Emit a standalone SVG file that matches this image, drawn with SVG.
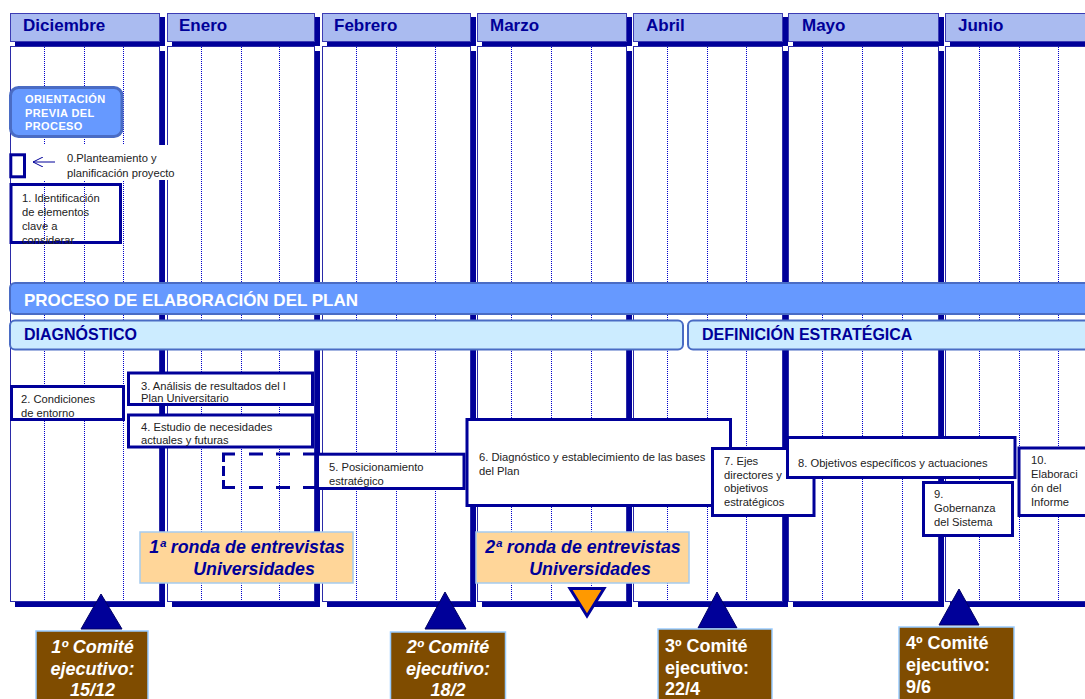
<svg xmlns="http://www.w3.org/2000/svg" width="1085" height="699" viewBox="0 0 1085 699">
<style>
.sh{fill:#000099}
.body{fill:#fff;stroke:#2b2ba8;stroke-width:1}
.hdr{fill:#aabbf0;stroke:#3c3cb4;stroke-width:1}
.dot{stroke:#0000cc;stroke-width:1;stroke-dasharray:1 1;fill:none}
.mt{font-family:"Liberation Sans",Arial,sans-serif;font-weight:bold;font-size:17px;fill:#000099}
.box{fill:#fff;stroke:#000099;stroke-width:3}
.nobox{fill:none;stroke:#000099;stroke-width:3}
.t{font-family:"Liberation Sans",Arial,sans-serif;font-size:11.2px;fill:#222}
.bar1{fill:#6699ff;stroke:#4a6cc4;stroke-width:2}
.bar2{fill:#ccecff;stroke:#4a6cc4;stroke-width:2}
.bt1{font-family:"Liberation Sans",Arial,sans-serif;font-weight:bold;font-size:17px;fill:#fff}
.bt2{font-family:"Liberation Sans",Arial,sans-serif;font-weight:bold;font-size:16px;fill:#000099}
.ronda{fill:#ffd699;stroke:#a6cbee;stroke-width:1.5}
.rt{font-family:"Liberation Sans",Arial,sans-serif;font-weight:bold;font-style:italic;font-size:17.8px;fill:#000099;text-anchor:middle}
.com{fill:#7f4c00;stroke:#99ccff;stroke-width:1.5}
.ct{font-family:"Liberation Sans",Arial,sans-serif;font-weight:bold;font-size:18px;fill:#fff}
.tri{fill:#000099;stroke:#000066;stroke-width:1}
</style>
<defs>
<marker id="open-arrow" viewBox="0 0 10 10" refX="10" refY="5" markerWidth="10" markerHeight="10" markerUnits="userSpaceOnUse" orient="auto">
<path d="M0,0 L10,5 L0,10" fill="none" stroke="#000099" stroke-width="1"/>
</marker>
</defs>

<g id="col-diciembre">
<rect class="sh" x="15" y="51" width="150" height="556"/>
<rect class="body" x="10.5" y="46.5" width="149" height="555"/>
<line class="dot" x1="44.5" y1="47" x2="44.5" y2="601"/><line class="dot" x1="84.5" y1="47" x2="84.5" y2="601"/><line class="dot" x1="123.5" y1="47" x2="123.5" y2="601"/>
<rect class="sh" x="15" y="17" width="150" height="29"/>
<rect class="hdr" x="10.5" y="13.5" width="149" height="28"/>
<text class="mt" x="23" y="31">Diciembre</text>
</g>
<g id="col-enero">
<rect class="sh" x="172" y="51" width="148" height="556"/>
<rect class="body" x="167.5" y="46.5" width="147" height="555"/>
<line class="dot" x1="201.5" y1="47" x2="201.5" y2="601"/><line class="dot" x1="241.5" y1="47" x2="241.5" y2="601"/><line class="dot" x1="279.5" y1="47" x2="279.5" y2="601"/>
<rect class="sh" x="172" y="17" width="148" height="29"/>
<rect class="hdr" x="167.5" y="13.5" width="147" height="28"/>
<text class="mt" x="179" y="31">Enero</text>
</g>
<g id="col-febrero">
<rect class="sh" x="327" y="51" width="149" height="556"/>
<rect class="body" x="322.5" y="46.5" width="148" height="555"/>
<line class="dot" x1="356.5" y1="47" x2="356.5" y2="601"/><line class="dot" x1="396.5" y1="47" x2="396.5" y2="601"/><line class="dot" x1="435.5" y1="47" x2="435.5" y2="601"/>
<rect class="sh" x="327" y="17" width="149" height="29"/>
<rect class="hdr" x="322.5" y="13.5" width="148" height="28"/>
<text class="mt" x="334" y="31">Febrero</text>
</g>
<g id="col-marzo">
<rect class="sh" x="482" y="51" width="150" height="556"/>
<rect class="body" x="477.5" y="46.5" width="149" height="555"/>
<line class="dot" x1="511.5" y1="47" x2="511.5" y2="601"/><line class="dot" x1="551.5" y1="47" x2="551.5" y2="601"/><line class="dot" x1="591.5" y1="47" x2="591.5" y2="601"/>
<rect class="sh" x="482" y="17" width="150" height="29"/>
<rect class="hdr" x="477.5" y="13.5" width="149" height="28"/>
<text class="mt" x="490" y="31">Marzo</text>
</g>
<g id="col-abril">
<rect class="sh" x="638" y="51" width="150" height="556"/>
<rect class="body" x="633.5" y="46.5" width="149" height="555"/>
<line class="dot" x1="667.5" y1="47" x2="667.5" y2="601"/><line class="dot" x1="707.5" y1="47" x2="707.5" y2="601"/><line class="dot" x1="746.5" y1="47" x2="746.5" y2="601"/>
<rect class="sh" x="638" y="17" width="150" height="29"/>
<rect class="hdr" x="633.5" y="13.5" width="149" height="28"/>
<text class="mt" x="646" y="31">Abril</text>
</g>
<g id="col-mayo">
<rect class="sh" x="793" y="51" width="151" height="556"/>
<rect class="body" x="788.5" y="46.5" width="150" height="555"/>
<line class="dot" x1="822.5" y1="47" x2="822.5" y2="601"/><line class="dot" x1="862.5" y1="47" x2="862.5" y2="601"/><line class="dot" x1="902.5" y1="47" x2="902.5" y2="601"/>
<rect class="sh" x="793" y="17" width="151" height="29"/>
<rect class="hdr" x="788.5" y="13.5" width="150" height="28"/>
<text class="mt" x="802" y="31">Mayo</text>
</g>
<g id="col-junio">
<rect class="sh" x="950" y="51" width="150" height="556"/>
<rect class="body" x="945.5" y="46.5" width="149" height="555"/>
<line class="dot" x1="979.5" y1="47" x2="979.5" y2="601"/><line class="dot" x1="1019.5" y1="47" x2="1019.5" y2="601"/><line class="dot" x1="1058.5" y1="47" x2="1058.5" y2="601"/>
<rect class="sh" x="950" y="17" width="150" height="29"/>
<rect class="hdr" x="945.5" y="13.5" width="149" height="28"/>
<text class="mt" x="958" y="31">Junio</text>
</g>

<g id="orientacion">
<rect class="bar1" x="10.5" y="87.5" width="111.5" height="49" rx="8" style="stroke-width:3"/>
<text font-family="Liberation Sans, Arial, sans-serif" font-weight="bold" font-size="11" letter-spacing="0.4" fill="#fff"><tspan x="25" y="103">ORIENTACIÓN</tspan><tspan x="25" y="116.5">PREVIA DEL</tspan><tspan x="25" y="130">PROCESO</tspan></text>
</g>

<g id="label-0">
<rect x="28" y="145" width="152" height="35" fill="#fff"/>
<text class="t"><tspan x="67" y="162">0.Planteamiento y</tspan><tspan x="67" y="177">planificación proyecto</tspan></text>
</g>
<g id="node-0">
<rect class="box" x="10.8" y="154.8" width="13.7" height="22"/>
</g>
<g id="node-1">
<rect class="nobox" x="11" y="184.5" width="109.5" height="58"/>
<text class="t"><tspan x="22" y="202">1. Identificación</tspan><tspan x="22" y="216">de elementos</tspan><tspan x="22" y="230">clave a</tspan><tspan x="22" y="244">considerar</tspan></text>
</g>

<g id="connectors">
<line x1="55" y1="162" x2="33" y2="162" stroke="#000099" stroke-width="1" marker-end="url(#open-arrow)"/>
</g>

<g id="proceso">
<rect class="bar1" x="10" y="283" width="1090" height="31" rx="5"/>
<text class="bt1" x="24" y="306">PROCESO DE ELABORACIÓN DEL PLAN</text>
</g>
<g id="diagnostico">
<rect class="bar2" x="10" y="320.5" width="673" height="29" rx="5"/>
<text class="bt2" x="24" y="340">DIAGNÓSTICO</text>
</g>
<g id="definicion">
<rect class="bar2" x="688" y="320.5" width="410" height="29" rx="5"/>
<text class="bt2" x="702" y="340">DEFINICIÓN ESTRATÉGICA</text>
</g>

<g id="node-2">
<rect class="box" x="11.5" y="386.5" width="112" height="33"/>
<text class="t"><tspan x="21" y="403">2. Condiciones</tspan><tspan x="21" y="417">de entorno</tspan></text>
</g>
<g id="node-3">
<rect class="box" x="128.5" y="373" width="184" height="31.5"/>
<text class="t"><tspan x="141" y="390">3. Análisis de resultados del I</tspan><tspan x="141" y="402">Plan Universitario</tspan></text>
</g>
<g id="node-4">
<rect class="box" x="128.5" y="415" width="184" height="32"/>
<text class="t"><tspan x="141" y="431">4. Estudio de necesidades</tspan><tspan x="141" y="444">actuales y futuras</tspan></text>
</g>
<g id="dashed-extension">
<path d="M222,454 H235 M249,454 H263 M276,454 H290 M303,454 H317 M222,487.5 H235 M249,487.5 H263 M276,487.5 H290 M303,487.5 H317 M223.5,452.5 V462 M223.5,466 V476 M223.5,480 V489" fill="none" stroke="#000099" stroke-width="3"/>
</g>
<g id="node-5">
<rect class="box" x="317.5" y="454.2" width="146.5" height="34.3"/>
<text class="t"><tspan x="329" y="471">5. Posicionamiento</tspan><tspan x="329" y="485">estratégico</tspan></text>
</g>
<g id="node-6">
<rect class="box" x="467" y="419.5" width="263.5" height="86"/>
<text class="t"><tspan x="479" y="461">6. Diagnóstico y establecimiento de las bases</tspan><tspan x="479" y="475">del Plan</tspan></text>
</g>
<g id="node-7">
<rect class="box" x="712.5" y="448.5" width="101.5" height="67"/>
<text class="t"><tspan x="724" y="465">7. Ejes</tspan><tspan x="724" y="479">directores y</tspan><tspan x="724" y="492">objetivos</tspan><tspan x="724" y="506">estratégicos</tspan></text>
</g>
<g id="node-9">
<rect class="box" x="923.5" y="482.5" width="89" height="53"/>
<text class="t"><tspan x="934" y="498">9.</tspan><tspan x="934" y="512">Gobernanza</tspan><tspan x="934" y="526">del Sistema</tspan></text>
</g>
<g id="node-8">
<rect class="box" x="787.5" y="437.5" width="227.5" height="40"/>
<text class="t" x="798" y="467">8. Objetivos específicos y actuaciones</text>
</g>
<g id="node-10">
<rect class="box" x="1019" y="448" width="80" height="67.5"/>
<text class="t"><tspan x="1031" y="464">10.</tspan><tspan x="1031" y="478">Elaboraci</tspan><tspan x="1031" y="492">ón del</tspan><tspan x="1031" y="506">Informe</tspan></text>
</g>

<g id="ronda-1">
<rect class="ronda" x="140" y="532" width="213" height="51"/>
<text class="rt"><tspan x="247" y="553">1ª ronda de entrevistas</tspan><tspan x="254" y="575">Universidades</tspan></text>
</g>
<g id="ronda-2">
<rect class="ronda" x="476" y="532" width="213" height="51"/>
<text class="rt"><tspan x="583" y="553">2ª ronda de entrevistas</tspan><tspan x="590" y="575">Universidades</tspan></text>
</g>
<g id="marker-ronda-2">
<polygon points="570,588.5 604,588.5 587,616" fill="#ff9900" stroke="#000099" stroke-width="3"/>
</g>

<g id="comite-1">
<polygon class="tri" points="101,594 122,629 81,629"/>
<rect class="com" x="36" y="631" width="112" height="75"/>
<text class="ct" font-style="italic" text-anchor="middle"><tspan x="92.5" y="653">1º Comité</tspan><tspan x="92.5" y="675">ejecutivo:</tspan><tspan x="92.5" y="696">15/12</tspan></text>
</g>
<g id="comite-2">
<polygon class="tri" points="445,592 466,629 425,629"/>
<rect class="com" x="390.5" y="632" width="115" height="75"/>
<text class="ct" font-style="italic" text-anchor="middle"><tspan x="448" y="653">2º Comité</tspan><tspan x="448" y="675">ejecutivo:</tspan><tspan x="448" y="696">18/2</tspan></text>
</g>
<g id="comite-3">
<polygon class="tri" points="717,592 737,628 698,628"/>
<rect class="com" x="658" y="629" width="114" height="75"/>
<text class="ct"><tspan x="665" y="652">3º Comité</tspan><tspan x="665" y="674">ejecutivo:</tspan><tspan x="665" y="695">22/4</tspan></text>
</g>
<g id="comite-4">
<polygon class="tri" points="959,589 979,625 939,625"/>
<rect class="com" x="899" y="627" width="115" height="75"/>
<text class="ct"><tspan x="906" y="649">4º Comité</tspan><tspan x="906" y="671">ejecutivo:</tspan><tspan x="906" y="693">9/6</tspan></text>
</g>
</svg>
